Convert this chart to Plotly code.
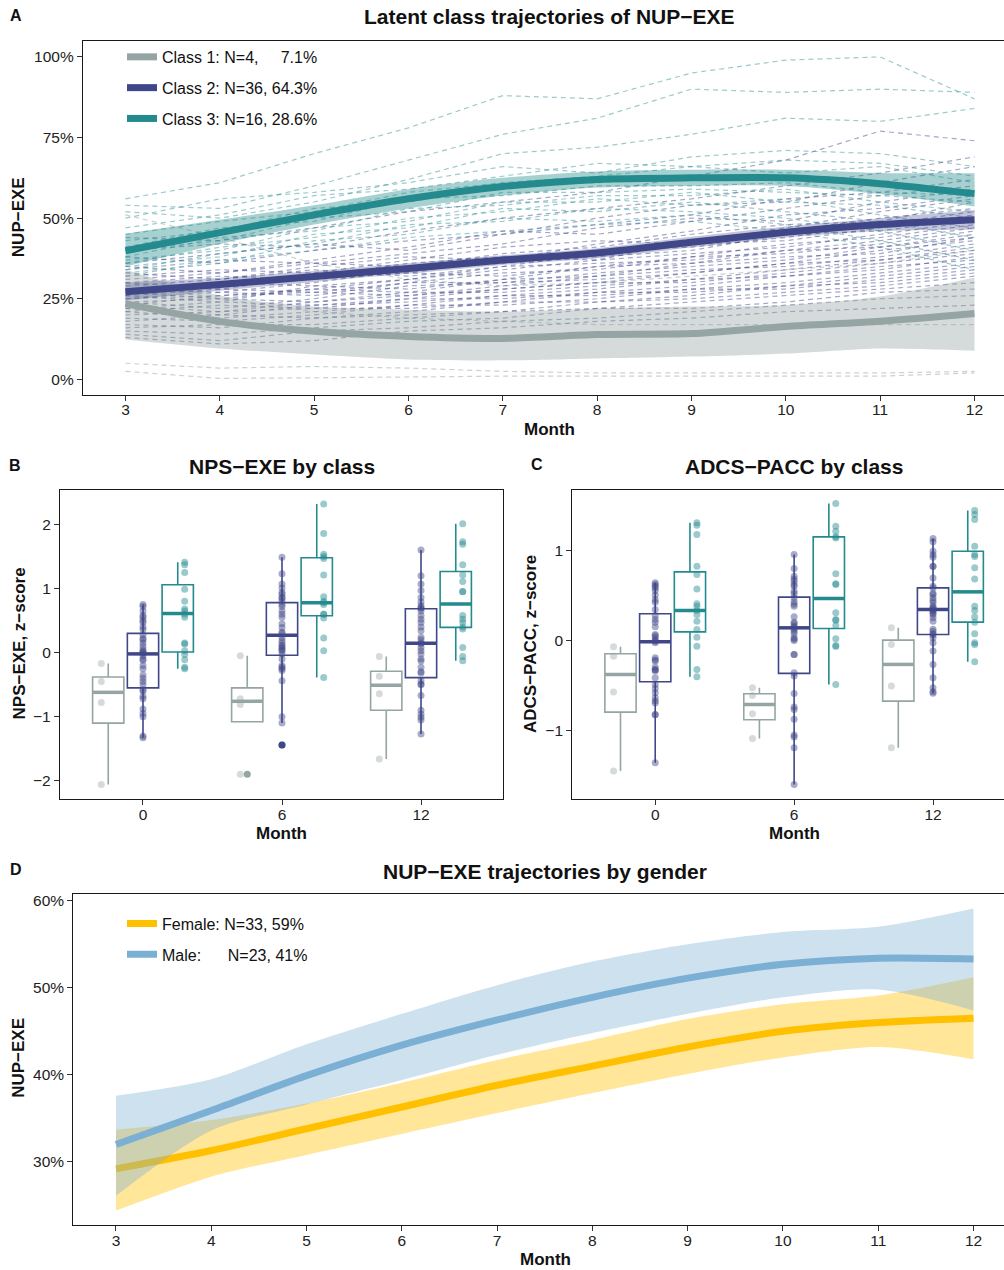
import plotly.graph_objects as go

W, H = 1004, 1270
FONT = "Liberation Sans, Arial, Helvetica, sans-serif"

# ---------------- Panel A data ----------------
months = [3, 4, 5, 6, 7, 8, 9, 10, 11, 12]
pct_ticks_a = [0, 25, 50, 75, 100]
pct_ticks_d = [30, 40, 50, 60]
class_names = ["Class 1: N=4,\u00a0\u00a0\u00a0\u00a0\u00a07.1%", "Class 2: N=36, 64.3%", "Class 3: N=16, 28.6%"]
class_colors = ["#95A5A3", "#404788", "#238A8D"]
class_band = ["rgba(149,165,163,0.40)", "rgba(64,71,136,0.32)", "rgba(35,138,141,0.40)"]
class_dash = ["rgba(149,165,163,0.50)", "rgba(64,71,136,0.48)", "rgba(35,138,141,0.45)"]

class1_mean = [23.5, 18.0, 14.9, 13.3, 12.7, 13.9, 14.2, 16.4, 18.0, 20.4]
class1_lo = [12.4, 9.6, 7.7, 6.2, 5.9, 6.5, 7.1, 8.0, 9.6, 8.9]
class1_hi = [34.0, 26.0, 22.6, 21.6, 21.0, 22.0, 22.6, 23.0, 25.7, 31.6]
class2_mean = [27.2, 29.4, 31.9, 34.4, 37.0, 39.2, 42.5, 45.6, 48.0, 49.5]
class2_lo = [24.5, 27.5, 30.2, 32.8, 35.5, 37.6, 40.9, 44.0, 46.0, 46.5]
class2_hi = [30.0, 31.5, 33.6, 36.0, 38.5, 40.7, 44.2, 47.4, 50.0, 52.5]
class3_mean = [39.9, 45.5, 51.0, 56.0, 59.8, 62.0, 62.5, 62.5, 60.7, 57.6]
class3_lo = [35.0, 42.0, 48.0, 53.0, 57.0, 59.5, 60.0, 60.0, 57.5, 53.6]
class3_hi = [45.2, 49.5, 54.0, 59.0, 62.5, 64.5, 65.0, 65.0, 64.0, 63.9]

class1_indiv = [
    [51, 44, 36, 31, 29, 30, 32, 34, 36, 40],
    [30, 25, 21, 19, 18, 17, 17, 17, 17, 17],
    [5, 3.5, 4, 3.5, 2.5, 2, 2, 2, 2, 2.5],
    [2.5, 0.3, 0.5, 0.8, 1, 1, 1, 1, 1, 2],
]
class2_indiv = [
    [44, 43, 47, 52, 55, 58, 63, 68, 77, 74],
    [40, 42, 41, 46, 50, 53, 56, 60, 64, 69],
    [38, 36, 40, 43, 45, 50, 54, 55, 61, 66],
    [36, 39, 42, 40, 45, 48, 51, 56, 58, 62],
    [35, 33, 37, 41, 46, 45, 49, 53, 57, 60],
    [34, 37, 36, 39, 42, 47, 50, 49, 55, 59],
    [33, 31, 35, 38, 37, 42, 46, 51, 53, 57],
    [32, 34, 33, 37, 41, 43, 42, 47, 52, 56],
    [31, 33, 36, 35, 39, 41, 45, 48, 49, 55],
    [30, 28, 32, 36, 38, 37, 43, 46, 50, 53],
    [30, 32, 31, 33, 37, 40, 41, 44, 48, 52],
    [29, 31, 34, 32, 35, 39, 42, 43, 47, 51],
    [28, 27, 30, 34, 36, 38, 40, 45, 46, 50],
    [28, 30, 29, 31, 34, 37, 39, 41, 45, 49],
    [27, 29, 32, 33, 32, 35, 38, 42, 44, 48],
    [27, 25, 28, 31, 35, 36, 37, 40, 43, 47],
    [26, 28, 27, 30, 33, 34, 38, 39, 42, 46],
    [26, 24, 29, 28, 31, 35, 36, 40, 41, 45],
    [25, 27, 26, 30, 30, 33, 35, 37, 41, 44],
    [25, 26, 28, 27, 31, 32, 36, 38, 39, 44],
    [24, 22, 25, 29, 30, 31, 33, 36, 40, 43],
    [24, 25, 24, 26, 29, 32, 34, 35, 38, 42],
    [23, 26, 27, 26, 28, 30, 33, 36, 37, 41],
    [23, 21, 24, 27, 27, 29, 31, 34, 37, 40],
    [22, 24, 23, 25, 28, 30, 30, 33, 36, 39],
    [22, 20, 23, 24, 26, 28, 31, 32, 34, 38],
    [21, 23, 22, 25, 25, 27, 29, 32, 35, 37],
    [21, 19, 21, 23, 26, 26, 28, 30, 33, 36],
    [20, 21, 22, 22, 24, 27, 27, 29, 32, 35],
    [19, 18, 20, 23, 23, 25, 28, 28, 31, 34],
    [18, 20, 19, 21, 24, 24, 26, 29, 30, 33],
    [17, 16, 19, 20, 21, 24, 25, 27, 29, 32],
    [16, 17, 17, 19, 21, 22, 24, 26, 28, 30],
    [15, 14, 16, 18, 19, 22, 22, 24, 27, 28],
    [14, 12, 15, 16, 18, 19, 21, 23, 25, 26],
    [13, 11, 12, 15, 16, 18, 19, 21, 22, 23],
]
class3_indiv = [
    [56, 61, 70, 78, 88, 87, 95, 99, 100, 87],
    [54, 53, 60, 68, 76, 81, 90, 89, 90, 89],
    [52, 50, 55, 62, 70, 72, 76, 81, 80, 84],
    [50, 56, 58, 61, 66, 64, 69, 71, 70, 66],
    [47, 51, 57, 59, 63, 67, 66, 68, 67, 63],
    [45, 49, 52, 58, 61, 63, 66, 64, 66, 61],
    [43, 46, 53, 55, 60, 61, 63, 62, 60, 58],
    [41, 47, 49, 56, 57, 60, 60, 61, 58, 57],
    [40, 43, 50, 52, 58, 58, 59, 58, 57, 55],
    [38, 44, 46, 53, 54, 57, 57, 59, 55, 52],
    [37, 40, 47, 49, 55, 55, 58, 55, 54, 50],
    [36, 41, 44, 50, 52, 56, 54, 56, 51, 47],
    [35, 38, 45, 47, 53, 52, 55, 52, 49, 44],
    [34, 39, 42, 48, 49, 53, 52, 50, 46, 40],
    [33, 36, 43, 45, 50, 49, 51, 48, 43, 37],
    [32, 37, 40, 44, 46, 48, 49, 46, 41, 34],
]

# ---------------- Panels B / C data ----------------
box_months = ["0", "6", "12"]
# NPS-EXE (z-score)
nps_pts = [
    [  # class 1
        [-0.17, -0.45, -0.78, -2.06],
        [-0.05, -0.72, -0.81, -1.90],
        [-0.06, -0.37, -0.64, -1.66],
    ],
    [  # class 2
        [0.75, 0.72, 0.65, 0.58, 0.55, 0.50, 0.47, 0.40, 0.36, 0.28, 0.22, 0.20, 0.15, 0.10, 0.05, 0.02, 0.00, -0.01,
         -0.05, -0.10, -0.12, -0.20, -0.25, -0.35, -0.40, -0.45, -0.50, -0.58, -0.60, -0.68, -0.72, -0.88, -0.95, -1.00, -1.30, -1.33],
        [1.49, 1.23, 1.07, 1.01, 0.94, 0.91, 0.86, 0.85, 0.80, 0.75, 0.72, 0.65, 0.60, 0.55, 0.45, 0.39, 0.32, 0.30,
         0.24, 0.19, 0.15, 0.11, 0.09, 0.07, 0.04, 0.03, -0.02, -0.10, -0.20, -0.23, -0.25, -0.28, -0.44, -1.00, -1.10, -1.44],
        [1.60, 1.20, 1.07, 0.97, 0.86, 0.79, 0.73, 0.70, 0.69, 0.65, 0.58, 0.52, 0.47, 0.40, 0.34, 0.24, 0.20, 0.15,
         0.14, 0.08, 0.03, -0.02, -0.10, -0.13, -0.23, -0.30, -0.32, -0.44, -0.49, -0.50, -0.67, -0.90, -0.96, -1.01, -1.05, -1.27],
    ],
    [  # class 3
        [1.41, 1.37, 1.25, 0.99, 0.80, 0.68, 0.65, 0.60, 0.55, 0.15, 0.135, 0.03, -0.03, -0.11, -0.23, -0.25],
        [2.32, 1.86, 1.535, 1.50, 1.47, 1.21, 0.87, 0.80, 0.78, 0.75, 0.60, 0.60, 0.54, 0.23, 0.03, -0.39],
        [2.01, 1.73, 1.69, 1.37, 1.21, 1.11, 0.955, 0.95, 0.58, 0.52, 0.47, 0.40, 0.37, 0.08, -0.06, -0.125],
    ],
]
nps_q1 = [[-1.10, -1.08, -0.90], [-0.55, -0.04, -0.39], [0.01, 0.576, 0.394]]
nps_med = [[-0.62, -0.76, -0.51], [-0.02, 0.27, 0.145], [0.61, 0.78, 0.757]]
nps_q3 = [[-0.38, -0.55, -0.29], [0.30, 0.78, 0.685], [1.06, 1.48, 1.265]]

# ADCS-PACC (z-score)
adcs_pts = [
    [
        [-0.074, -0.178, -0.577, -1.456],
        [-0.530, -0.615, -0.819, -1.093],
        [0.137, -0.048, -0.511, -1.196],
    ],
    [
        [0.637, 0.62, 0.60, 0.58, 0.55, 0.50, 0.45, 0.42, 0.34, 0.27, 0.23, 0.20, 0.15, 0.063, 0.05, 0.026, 0.0, -0.011,
         -0.03, -0.196, -0.22, -0.233, -0.30, -0.326, -0.33, -0.344, -0.419, -0.493, -0.537, -0.585, -0.641, -0.678, -0.70, -0.826, -0.83, -1.363],
        [0.952, 0.796, 0.711, 0.68, 0.656, 0.619, 0.60, 0.544, 0.515, 0.47, 0.426, 0.40, 0.378, 0.259, 0.20, 0.185, 0.156, 0.14,
         0.12, 0.10, 0.07, 0.026, 0.01, -0.004, -0.159, -0.16, -0.363, -0.40, -0.593, -0.744, -0.770, -0.881, -1.056, -1.078, -1.196, -1.604],
        [1.13, 1.093, 0.989, 0.95, 0.922, 0.822, 0.82, 0.692, 0.60, 0.58, 0.52, 0.507, 0.47, 0.44, 0.415, 0.378, 0.36, 0.35,
         0.33, 0.322, 0.30, 0.285, 0.25, 0.211, 0.12, 0.10, 0.07, 0.06, 0.026, -0.03, -0.122, -0.27, -0.419, -0.53, -0.574, -0.59],
    ],
    [
        [1.304, 1.278, 1.174, 0.822, 0.73, 0.57, 0.404, 0.378, 0.33, 0.285, 0.211, 0.119, 0.033, -0.067, -0.326, -0.407],
        [1.519, 1.267, 1.211, 1.15, 1.137, 0.737, 0.626, 0.62, 0.304, 0.23, 0.22, 0.163, 0.015, -0.059, -0.07, -0.493],
        [1.441, 1.396, 1.341, 1.044, 0.952, 0.93, 0.804, 0.681, 0.378, 0.33, 0.256, 0.20, 0.07, -0.03, -0.048, -0.241],
    ],
]
adcs_q1 = [[-0.80, -0.885, -0.678], [-0.463, -0.370, 0.063], [0.092, 0.130, 0.20]]
adcs_med = [[-0.381, -0.715, -0.27], [-0.019, 0.137, 0.341], [0.33, 0.463, 0.537]]
adcs_q3 = [[-0.152, -0.596, 0.0], [0.293, 0.478, 0.581], [0.759, 1.148, 0.989]]

point_colors = ["rgba(149,165,163,0.40)", "rgba(64,71,136,0.45)", "rgba(35,138,141,0.45)"]

# ---------------- Panel D data ----------------
gender_names = ["Female: N=33, 59%", "Male:\u00a0\u00a0\u00a0\u00a0\u00a0\u00a0N=23, 41%"]
gender_colors = ["#FFC000", "#7BAFD4"]
gender_band = ["rgba(255,192,0,0.40)", "rgba(123,175,212,0.38)"]
female_mean = [29.2, 31.3, 33.8, 36.3, 38.8, 41.0, 43.2, 45.0, 46.0, 46.5]
female_lo = [24.4, 28.3, 30.8, 33.2, 35.6, 37.9, 40.1, 42.0, 43.2, 41.8]
female_hi = [33.7, 34.8, 36.7, 39.1, 41.7, 44.0, 46.4, 48.1, 49.1, 51.2]
male_mean = [32.0, 35.9, 39.9, 43.4, 46.3, 48.9, 51.1, 52.7, 53.4, 53.3]
male_lo = [26.1, 33.6, 36.6, 39.4, 42.3, 44.8, 47.0, 48.9, 49.8, 47.4]
male_hi = [37.6, 39.5, 43.5, 47.0, 50.3, 53.0, 55.0, 56.4, 57.0, 59.1]


def px(x):
    return x / W


def py(y):
    return 1 - y / H


fig = go.Figure()

# ---- Panel A: individual dashed trajectories ----
for indiv, dcol in zip([class1_indiv, class2_indiv, class3_indiv], class_dash):
    xs, ys = [], []
    for row in indiv:
        xs += months + [None]
        ys += row + [None]
    fig.add_trace(go.Scatter(x=xs, y=ys, mode="lines", xaxis="x", yaxis="y",
                             line=dict(color=dcol, width=1.2, dash="5px,4px"),
                             showlegend=False, hoverinfo="skip", connectgaps=False))

# ---- Panel A: bands and mean lines ----
for i, (m, lo, hi) in enumerate([(class1_mean, class1_lo, class1_hi),
                                  (class2_mean, class2_lo, class2_hi),
                                  (class3_mean, class3_lo, class3_hi)]):
    fig.add_trace(go.Scatter(x=months, y=lo, mode="lines", xaxis="x", yaxis="y",
                             line=dict(width=0, shape="spline", smoothing=0.8),
                             showlegend=False, hoverinfo="skip"))
    fig.add_trace(go.Scatter(x=months, y=hi, mode="lines", xaxis="x", yaxis="y", fill="tonexty",
                             fillcolor=class_band[i], line=dict(width=0, shape="spline", smoothing=0.8),
                             showlegend=False, hoverinfo="skip"))
    fig.add_trace(go.Scatter(x=months, y=m, mode="lines", xaxis="x", yaxis="y",
                             line=dict(color=class_colors[i], width=7, shape="spline", smoothing=0.8),
                             name=class_names[i], legendgroup="c%d" % i, legend="legend"))


# ---- Panels B, C: box plots ----
def add_boxes(pts_all, q1s, meds, q3s, xa, ya):
    box_off = [-0.25, 0.0, 0.25]
    pt_off = [-0.3, 0.0, 0.3]
    bw = 0.225
    for c in range(3):
        pos, lf, uf, out_x, out_y = [], [], [], [], []
        pxs, pys, mx, my = [], [], [], []
        for k in range(3):
            p = k + 1 + box_off[c]
            pts = pts_all[c][k]
            q1, q3 = q1s[c][k], q3s[c][k]
            iqr = q3 - q1
            inside = [v for v in pts if q1 - 1.5 * iqr <= v <= q3 + 1.5 * iqr]
            lf.append(min(min(inside), q1))
            uf.append(max(max(inside), q3))
            for v in pts:
                if v not in inside:
                    out_x.append(p)
                    out_y.append(v)
                pxs.append(k + 1 + pt_off[c])
                pys.append(v)
            pos.append(p)
            mx += [p - bw / 2, p + bw / 2, None]
            my += [meds[c][k], meds[c][k], None]
        fig.add_trace(go.Box(x=pos, q1=q1s[c], median=meds[c], q3=q3s[c], lowerfence=lf, upperfence=uf,
                             xaxis=xa, yaxis=ya, width=bw, whiskerwidth=0,
                             line=dict(color=class_colors[c], width=1.6),
                             fillcolor="rgba(255,255,255,0)", showlegend=False, hoverinfo="skip"))
        fig.add_trace(go.Scatter(x=pxs, y=pys, mode="markers", xaxis=xa, yaxis=ya,
                                 marker=dict(size=7, color=point_colors[c], line=dict(width=0)),
                                 showlegend=False, hoverinfo="skip"))
        fig.add_trace(go.Scatter(x=mx, y=my, mode="lines", xaxis=xa, yaxis=ya,
                                 line=dict(color=class_colors[c], width=3.5),
                                 showlegend=False, hoverinfo="skip"))
        if out_x:
            fig.add_trace(go.Scatter(x=out_x, y=out_y, mode="markers", xaxis=xa, yaxis=ya,
                                     marker=dict(size=7, color=class_colors[c]),
                                     showlegend=False, hoverinfo="skip"))


add_boxes(nps_pts, nps_q1, nps_med, nps_q3, "x2", "y2")
add_boxes(adcs_pts, adcs_q1, adcs_med, adcs_q3, "x3", "y3")

# ---- Panel D ----
for i, (m, lo, hi) in enumerate([(female_mean, female_lo, female_hi), (male_mean, male_lo, male_hi)]):
    fig.add_trace(go.Scatter(x=months, y=lo, mode="lines", xaxis="x4", yaxis="y4",
                             line=dict(width=0, shape="spline", smoothing=0.8),
                             showlegend=False, hoverinfo="skip"))
    fig.add_trace(go.Scatter(x=months, y=hi, mode="lines", xaxis="x4", yaxis="y4", fill="tonexty",
                             fillcolor=gender_band[i], line=dict(width=0, shape="spline", smoothing=0.8),
                             showlegend=False, hoverinfo="skip"))
    fig.add_trace(go.Scatter(x=months, y=m, mode="lines", xaxis="x4", yaxis="y4",
                             line=dict(color=gender_colors[i], width=7, shape="spline", smoothing=0.8),
                             name=gender_names[i], legendgroup="g%d" % i, legend="legend2"))


def axis(domain, rng, anchor, **kw):
    d = dict(domain=domain, range=rng, anchor=anchor, showline=True, linecolor="#1a1a1a", linewidth=1.3,
             ticks="outside", ticklen=5, tickwidth=1.1, tickcolor="#333333", showgrid=False,
             zeroline=False, tickfont=dict(size=15.5, color="#222222", family=FONT), fixedrange=True)
    d.update(kw)
    return d


fig.update_layout(
    width=W, height=H, margin=dict(l=0, r=0, t=0, b=0),
    paper_bgcolor="white", plot_bgcolor="white",
    font=dict(family=FONT, color="#111111"),
    xaxis=axis([px(83), 1.0], [2.55, 12.313], "y", tickvals=months, mirror=True, ticklabelstandoff=-4),
    yaxis=axis([py(393.3), py(39)], [-4.74, 104.95], "x", tickmode="array", tickvals=pct_ticks_a,
               ticktext=["%d%%" % v for v in pct_ticks_a]),
    xaxis2=axis([px(60), px(503.3)], [0.403, 3.592], "y2", tickvals=[1, 2, 3], ticktext=box_months,
                mirror=True, ticklabelstandoff=-4),
    yaxis2=axis([py(798.3), py(489)], [-2.285, 2.534], "x2", tickvals=[-2, -1, 0, 1, 2], mirror=True),
    xaxis3=axis([px(572.3), 1.0], [0.403, 3.511], "y3", tickvals=[1, 2, 3], ticktext=box_months,
                mirror=True, ticklabelstandoff=-4),
    yaxis3=axis([py(798.3), py(489)], [-1.767, 1.667], "x3", tickvals=[-1, 0, 1]),
    xaxis4=axis([px(73.3), 1.0], [2.552, 12.32], "y4", tickvals=months, mirror=True, ticklabelstandoff=-4),
    yaxis4=axis([py(1225), py(893.3)], [22.74, 60.78], "x4", tickmode="array", tickvals=pct_ticks_d,
                ticktext=["%d%%" % v for v in pct_ticks_d]),
    legend=dict(x=px(122), y=py(38), xanchor="left", yanchor="top", bgcolor="rgba(0,0,0,0)",
                font=dict(size=16, color="#111111", family=FONT), tracegroupgap=7, itemwidth=30,
                traceorder="grouped"),
    legend2=dict(x=px(122), y=py(906), xanchor="left", yanchor="top", bgcolor="rgba(0,0,0,0)",
                 font=dict(size=16, color="#111111", family=FONT), tracegroupgap=7, itemwidth=30,
                 traceorder="grouped"),
    showlegend=True,
)

anns = []


def ann(text, x, y, size, bold=True, angle=0, xanchor="center"):
    t = "<b>%s</b>" % text if bold else text
    anns.append(dict(text=t, x=px(x), y=py(y), xref="paper", yref="paper", showarrow=False,
                     xanchor=xanchor, yanchor="middle", textangle=angle,
                     font=dict(size=size, color="#111111", family=FONT)))


# panel tags
ann("A", 16, 14, 16)
ann("B", 15, 464, 16)
ann("C", 537, 463, 16)
ann("D", 16, 869, 16)
# titles
ann("Latent class trajectories of NUP\u2212EXE", 549, 15, 21)
ann("NPS\u2212EXE by class", 281.5, 465, 21)
ann("ADCS\u2212PACC by class", 794, 465, 21)
ann("NUP\u2212EXE trajectories by gender", 545, 871, 21)
# x titles
ann("Month", 549, 428, 17)
ann("Month", 281.5, 833, 17)
ann("Month", 794, 833, 17)
ann("Month", 545, 1259, 17)
# y titles
ann("NUP\u2212EXE", 18.5, 216, 17, angle=-90)
ann("NPS\u2212EXE, z\u2212score", 19.5, 643, 17, angle=-90)
ann("ADCS\u2212PACC, z\u2212score", 531, 643, 17, angle=-90)
ann("NUP\u2212EXE", 18.5, 1058, 17, angle=-90)

fig.update_layout(annotations=anns)
fig.write_html("out.html", config={"displayModeBar": False},
               post_script="document.body.style.margin='0px';document.body.style.overflow='hidden';")
